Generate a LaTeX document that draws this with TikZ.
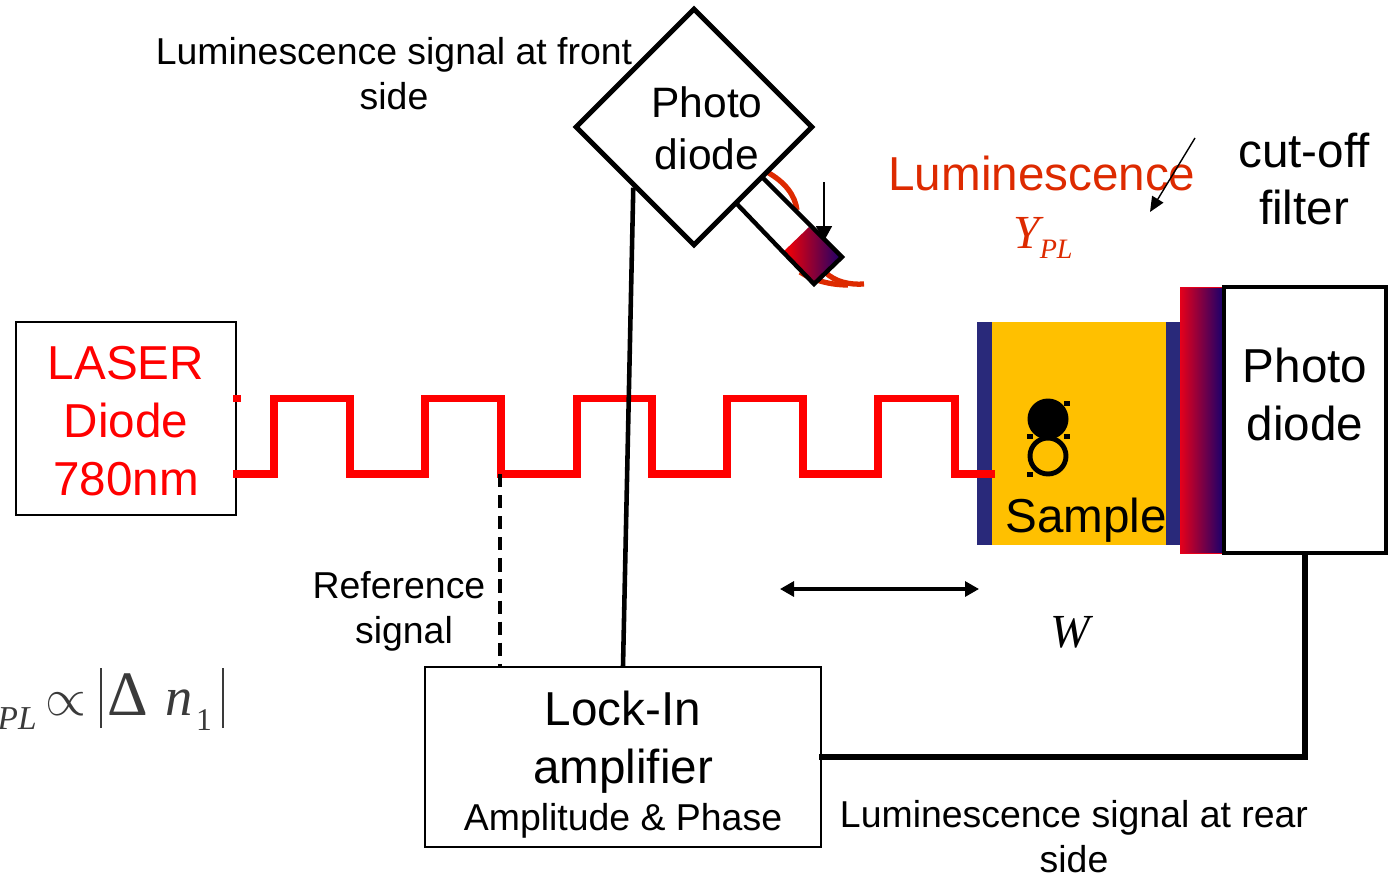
\documentclass[tikz,border=0pt]{standalone}
\usepackage{amsmath}
\usepackage{fontspec}
\usepackage{tikz}
\usetikzlibrary{shapes.geometric,arrows.meta}
\setmainfont{Liberation Sans}
\newfontfamily\symfont{Liberation Serif}
\definecolor{pulsered}{HTML}{FF0000}
\definecolor{lumired}{HTML}{DD2A00}
\definecolor{samplegold}{HTML}{FFC000}
\definecolor{contactblue}{HTML}{29297A}
\definecolor{filterred}{HTML}{E6001A}
\definecolor{filterblue}{HTML}{14006E}
\definecolor{formulagrey}{HTML}{3A3A3A}
\tikzset{
	bigtext/.style={align=center,font=\fontsize{27.1}{33}\selectfont},
	midtext/.style={align=center,font=\fontsize{24.2}{29.5}\selectfont},
	smalltext/.style={align=center,font=\fontsize{21.3}{25.5}\selectfont},
	handle/.style={fill=black,minimum width=0.12cm,minimum height=0.1cm,inner sep=0}
}
\begin{document}
\begin{tikzpicture}[x=0.02cm,y=-0.02cm]
		\useasboundingbox (0,0) rectangle (1390,876);
		% sample and filter
		\fill[samplegold] (992,322) rectangle (1166,545);
		\fill[contactblue] (977,322) rectangle (992,545);
		\fill[contactblue] (1166,322) rectangle (1180,545);
		\shade[left color=filterred,right color=filterblue,draw=filterred,line width=0.5pt] (1180,287) rectangle (1224,553);
		\node[draw,line width=2.8pt,minimum width=3.24cm,minimum height=5.32cm,inner sep=0] (reardiode) at (1305,420) {};
		\node[bigtext] (rearlabel) at (1305,394) {Photo\\diode};
		\node[bigtext] (samplelabel) at (1086,520) {Sample};
		\node[circle,fill=black,minimum width=0.82cm,inner sep=0] (filled) at (1048,419) {};
		\node[circle,draw,line width=2.8pt,minimum width=0.72cm,inner sep=0] (open) at (1048,456) {};
		\node[handle] (h1) at (1067,403) {};
		\node[handle] (h2) at (1030,436) {};
		\node[handle] (h3) at (1067,436) {};
		\node[handle] (h4) at (1030,474) {};
		% front detector
		\draw[lumired,line width=3pt] (767,172) .. controls (785,182) and (795,195) .. (797,210);
		\draw[lumired,line width=3pt] (800,272) .. controls (812,280) and (830,285) .. (848,285);
		\draw[lumired,line width=3pt] (825,272) .. controls (835,282) and (850,285) .. (864,284);
		\node[diamond,draw,line width=2.8pt,aspect=1,minimum size=4.76cm,inner sep=0] (frontdiode) at (694,127) {};
		\node[midtext] (frontlabel) at (707,128) {Photo\\diode};
		\shade[left color=pulsered,right color=filterblue] (783,252) -- (809,227) -- (843,257) -- (814,284) -- cycle;
		\draw[line width=2.5pt] (762,177) -- (842,257) -- (814,284) -- (783,252) -- (736,203);
		\coordinate (downtop) at (824,182);
		\coordinate (downtip) at (824,241);
		\draw[line width=1pt,-{Triangle[length=0.3cm,width=0.32cm]}] (downtop) -- (downtip);
		% texts
		\node[smalltext] (frontsignal) at (394,74) {Luminescence signal at front\\side};
		\node[bigtext,text=lumired] (luminescence) at (1042,173) {Luminescence};
		\node[text=lumired,font=\fontsize{27}{33}\selectfont\symfont\itshape] (ypl) at (1043,238) {Y\raisebox{-0.5ex}{\fontsize{16}{20}\selectfont PL}};
		\node[bigtext] (cutoff) at (1304,179) {cut-off\\filter};
		\coordinate (filtertail) at (1195,138);
		\coordinate (filtertip) at (1150,212);
		\draw[line width=0.8pt,-{Triangle[length=0.3cm,width=0.26cm]}] (filtertail) -- (filtertip);
		\node[font=\fontsize{27}{33}\selectfont\symfont\itshape] (width) at (1070,632) {W};
		\node[smalltext] (refsignal) at (399,611) {Reference\\\hspace*{0.2cm}signal};
		\node[smalltext] (rearsignal) at (1074,837) {Luminescence signal at rear\\side};
		\node[anchor=base east,inner sep=0,text=formulagrey,font=\fontsize{29.5}{33}\selectfont\symfont] (formula) at (224,715) {{\itshape Y\kern 2pt\raisebox{-8.5pt}{\fontsize{19}{20}\selectfont PL}}\kern 5pt{\fontsize{36}{36}\selectfont\scalebox{1.2}{$\propto$}}\kern 8pt\rule[-7.4pt]{1.2pt}{34pt}\kern 3pt{\fontsize{36}{36}\selectfont Δ}\kern 10pt{\fontsize{31}{33}\selectfont\itshape n}\kern 1.7pt\raisebox{-9pt}{\fontsize{18}{20}\selectfont 1}\kern 5.5pt\rule[-7.4pt]{1.2pt}{34pt}};
		% laser and pulses
		\node[draw,line width=0.7pt,minimum width=4.4cm,minimum height=3.86cm,inner sep=0] (laser) at (126,418.5) {};
		\node[bigtext,text=pulsered] (laserlabel) at (126,421) {LASER\\Diode\\780nm};
		\node[draw,line width=0.9pt,minimum width=7.92cm,minimum height=3.6cm,inner sep=0] (lockin) at (623,757) {};
		\node[bigtext] (locklabel) at (623,742) {Lock-In\\amplifier};
		\node[smalltext] (phaselabel) at (623,821) {Amplitude \& Phase};
		\coordinate (pulsestart) at (233,474);
		\coordinate (pulseend) at (995,474);
		\coordinate (dashstart) at (233,398.5);
		\coordinate (dashend) at (241,398.5);
		\coordinate (refpoint) at (500,474);
		\draw[pulsered,line width=4pt] (pulsestart) -- (274,474) -- (274,398.5) -- (350,398.5) -- (350,474) -- (425,474) -- (425,398.5) -- (501,398.5) -- (501,474) -- (577,474) -- (577,398.5) -- (652,398.5) -- (652,474) -- (727,474) -- (727,398.5) -- (803,398.5) -- (803,474) -- (878,474) -- (878,398.5) -- (955,398.5) -- (955,474) -- (pulseend);
		\draw[pulsered,line width=4pt] (dashstart) -- (dashend);
		\draw[line width=2.6pt,dash pattern=on 7.5pt off 4.5pt] (refpoint) -- (refpoint |- lockin.north);
		\draw[line width=2.6pt] (frontdiode.south west) -- (lockin.north);
		\draw[line width=3.2pt,shorten >=-1.5pt] (reardiode.south) |- (lockin.east);
		\coordinate (spanleft) at (780,589);
		\coordinate (spanright) at (979,589);
		\draw[line width=1.8pt,{Triangle[length=0.28cm,width=0.3cm]}-{Triangle[length=0.28cm,width=0.3cm]}] (spanleft) -- (spanright);
	\end{tikzpicture}
\end{document}
